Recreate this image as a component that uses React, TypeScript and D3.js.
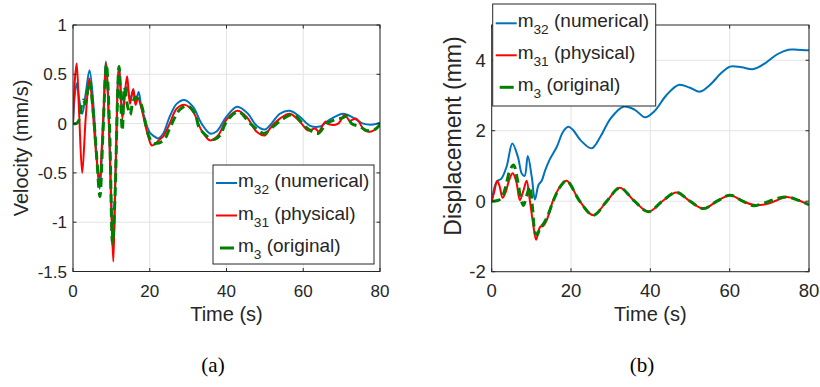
import React, { useEffect, useRef } from 'react';
import * as d3 from 'd3';

// (a) velocity, mm/s
const velTimeNum = [0, 0.5, 1.0, 1.6, 2.4, 3.3, 4.3, 5.3, 6.1, 6.9, 7.8, 8.6, 9.4, 10.0, 10.5, 11.1, 12.0, 12.9, 13.6, 14.1, 14.9, 15.7, 16.3, 17.1, 17.8, 18.5, 19.2, 20.2, 21.2, 22.2, 23.5, 25.2, 27.0, 29.0, 31.3, 33.5, 35.7, 37.4, 40.0, 42.8, 45.6, 47.8, 50.0, 51.3, 53.9, 56.5, 59.1, 61.7, 64.3, 66.9, 70.4, 73.0, 75.6, 78.2, 80];
const velNum = [0, 0.3, 0.41, 0.25, 0.1, 0.3, 0.54, 0.2, -0.3, -0.66, -0.1, 0.63, 0.0, -0.8, -1.28, -0.5, 0.58, 0.12, 0.3, 0.37, 0.25, 0.34, 0.22, 0.32, 0.17, 0.08, -0.02, -0.1, -0.13, -0.15, -0.1, 0.07, 0.2, 0.24, 0.17, 0.0, -0.1, -0.08, 0.07, 0.17, 0.1, -0.02, -0.06, -0.02, 0.1, 0.13, 0.07, -0.02, -0.03, 0.04, 0.1, 0.06, 0.0, -0.01, 0.01];

const velTimePhys = [0, 0.5, 0.95, 1.6, 2.4, 3.3, 4.25, 5.2, 6.0, 6.85, 7.8, 8.6, 9.5, 10.0, 10.5, 11.0, 12.0, 12.85, 13.5, 14.1, 14.85, 15.7, 16.3, 16.9, 17.8, 18.75, 19.6, 20.5, 21.3, 22.3, 23.5, 25.2, 27.0, 29.2, 31.3, 33.5, 35.7, 37.8, 40.0, 42.8, 45.2, 47.8, 50.0, 51.3, 53.9, 56.5, 59.1, 61.3, 63.1, 64.0, 65.8, 66.9, 69.1, 70.8, 72.1, 73.8, 76.0, 77.7, 80];
const velPhys = [0, 0.45, 0.61, 0.1, -0.5, 0.05, 0.46, 0.1, -0.3, -0.55, 0.0, 0.61, -0.2, -0.9, -1.4, -0.6, 0.58, 0.05, 0.3, 0.48, 0.2, 0.35, 0.19, 0.26, 0.16, 0.0, -0.13, -0.22, -0.21, -0.17, -0.13, 0.0, 0.15, 0.19, 0.12, -0.07, -0.17, -0.12, 0.04, 0.13, 0.07, -0.08, -0.12, -0.05, 0.05, 0.1, 0.02, -0.07, -0.05, -0.08, 0.02, -0.01, 0.0, 0.09, 0.03, 0.05, -0.07, -0.08, -0.01];

const velTimeOrig = [0, 0.8, 1.5, 2.2, 2.7, 3.2, 4.3, 5.2, 6.2, 7.0, 7.8, 8.7, 9.5, 10.3, 10.9, 12.0, 12.85, 13.4, 14.1, 14.9, 15.6, 16.4, 17.1, 17.9, 18.8, 19.7, 20.8, 21.8, 22.8, 24.0, 25.2, 27.8, 29.8, 31.8, 33.0, 36.5, 38.3, 40.0, 43.1, 46.2, 49.6, 50.4, 52.5, 54.8, 57.4, 60.8, 63.9, 66.0, 68.3, 70.4, 71.4, 72.6, 74.8, 76.5, 78.6, 80];
const velOrig = [0, 0.0, 0.03, 0.18, 0.24, 0.2, 0.43, 0.15, -0.35, -0.74, -0.1, 0.6, 0.0, -1.22, -0.8, 0.58, -0.07, 0.37, 0.2, 0.09, 0.22, 0.27, 0.24, 0.18, 0.02, -0.12, -0.2, -0.2, -0.19, -0.15, -0.05, 0.14, 0.18, 0.1, -0.05, -0.16, -0.12, 0.02, 0.12, 0.0, -0.1, -0.09, -0.02, 0.05, 0.09, -0.04, -0.1, 0.0, 0.04, 0.06, 0.08, 0.0, -0.03, -0.07, -0.06, -0.01];

// (b) displacement, mm
const dispTimeNum = [0, 1.25, 2.5, 3.8, 5.2, 6.6, 7.6, 8.3, 9.1, 10.1, 10.9, 11.8, 12.6, 13.5, 14.7, 16.4, 18.0, 19.3, 20.5, 22.5, 25.2, 27.5, 30.0, 33.2, 36.0, 38.7, 41.0, 44.0, 47.1, 50.0, 52.5, 55.0, 58.0, 60.1, 63.0, 66.0, 69.0, 72.0, 74.8, 77.0, 80];
const dispNum = [0, 0.55, 0.65, 1.0, 1.64, 1.26, 0.78, 0.72, 1.28, 0.69, 0.05, 0.46, 0.58, 0.88, 1.2, 1.54, 1.97, 2.11, 2.02, 1.72, 1.5, 1.85, 2.35, 2.68, 2.6, 2.38, 2.55, 3.0, 3.3, 3.22, 3.11, 3.3, 3.65, 3.82, 3.8, 3.75, 3.92, 4.17, 4.3, 4.3, 4.28];

const dispTimePhys = [0, 0.6, 1.4, 2.0, 2.75, 3.5, 4.4, 5.3, 6.2, 7.1, 8.0, 8.8, 9.6, 10.4, 11.2, 12.2, 13.0, 13.9, 15.5, 17.2, 18.9, 22.2, 25.6, 29.0, 32.3, 36.0, 39.5, 43.0, 46.6, 50.0, 53.4, 56.8, 60.1, 63.3, 66.0, 69.3, 71.8, 74.4, 77.5, 80];
const dispPhys = [0, 0.25, 0.58, 0.42, 0.1, 0.25, 0.6, 0.79, 0.55, 0.03, 0.3, 0.58, 0.03, -0.6, -1.09, -0.73, -0.7, -0.53, 0.03, 0.41, 0.58, 0.0, -0.4, 0.0, 0.38, 0.0, -0.3, 0.0, 0.25, 0.0, -0.21, 0.0, 0.17, 0.0, -0.1, -0.08, 0.02, 0.12, 0.02, -0.1];

const dispTimeOrig = [0, 1.5, 2.5, 3.5, 4.5, 5.5, 6.5, 7.5, 8.0, 8.8, 9.6, 10.3, 11.0, 11.5, 12.2, 13.0, 14.0, 15.5, 17.2, 18.9, 22.2, 25.6, 29.0, 32.3, 36.0, 39.5, 43.0, 46.6, 50.0, 53.4, 56.8, 60.1, 63.3, 66.0, 68.0, 70.0, 72.0, 74.4, 77.5, 80];
const dispOrig = [0, 0.02, 0.1, 0.4, 0.85, 1.03, 0.6, 0.0, -0.12, 0.15, 0.42, -0.2, -0.9, -0.95, -0.75, -0.65, -0.45, 0.0, 0.4, 0.58, 0.0, -0.4, 0.0, 0.38, 0.0, -0.3, 0.0, 0.25, 0.0, -0.21, 0.0, 0.17, 0.0, -0.13, -0.08, 0.0, 0.08, 0.12, 0.02, -0.1];

const xTicks = [0, 20, 40, 60, 80];
const velTicks = [-1.5, -1, -0.5, 0, 0.5, 1];
const dispTicks = [-2, 0, 2, 4];
const legendNames = ['32', '31', '3'];
const legendTails = [' (numerical)', ' (physical)', ' (original)'];

const BLUE = '#0072bd';
const RED = '#ff0000';
const GREEN = '#008000';
const INK = '#262626';
const SANS = '"Liberation Sans", Arial, Helvetica, sans-serif';

const drawPanel = (svg, cfg) => {
  const x = d3.scaleLinear().domain([0, 80]).range([cfg.left, cfg.right]);
  const y = d3.scaleLinear().domain(cfg.yDomain).range([cfg.bottom, cfg.top]);
  const g = svg.append('g').attr('font-family', SANS);

  g.append('rect')
    .attr('x', cfg.left).attr('y', cfg.top)
    .attr('width', cfg.right - cfg.left).attr('height', cfg.bottom - cfg.top)
    .attr('fill', '#fff');

  // grid
  xTicks.forEach((t) => {
    g.append('line').attr('x1', x(t)).attr('x2', x(t)).attr('y1', cfg.top).attr('y2', cfg.bottom)
      .attr('stroke', '#e3e3e3').attr('stroke-width', 1);
  });
  cfg.yTicks.forEach((t) => {
    g.append('line').attr('x1', cfg.left).attr('x2', cfg.right).attr('y1', y(t)).attr('y2', y(t))
      .attr('stroke', '#e3e3e3').attr('stroke-width', 1);
  });

  // curves
  const clipId = `clip-${cfg.id}`;
  svg.append('clipPath').attr('id', clipId).append('rect')
    .attr('x', cfg.left).attr('y', cfg.top)
    .attr('width', cfg.right - cfg.left).attr('height', cfg.bottom - cfg.top);
  const line = d3.line().x((d) => x(d[0])).y((d) => y(d[1])).curve(d3.curveCatmullRom.alpha(0.5));
  const lines = g.append('g').attr('clip-path', `url(#${clipId})`);
  cfg.series.forEach((s) => {
    lines.append('path')
      .attr('d', line(s.t.map((t, i) => [t, s.v[i]])))
      .attr('fill', 'none')
      .attr('stroke', s.color)
      .attr('stroke-width', s.width)
      .attr('stroke-dasharray', s.dash || null)
      .attr('stroke-linejoin', 'round');
  });

  // box + ticks
  g.append('rect')
    .attr('x', cfg.left).attr('y', cfg.top)
    .attr('width', cfg.right - cfg.left).attr('height', cfg.bottom - cfg.top)
    .attr('fill', 'none').attr('stroke', INK).attr('stroke-width', 1);
  const tl = 3.5;
  xTicks.forEach((t) => {
    g.append('line').attr('x1', x(t)).attr('x2', x(t)).attr('y1', cfg.bottom).attr('y2', cfg.bottom - tl).attr('stroke', INK);
    g.append('line').attr('x1', x(t)).attr('x2', x(t)).attr('y1', cfg.top).attr('y2', cfg.top + tl).attr('stroke', INK);
    g.append('text').attr('x', x(t)).attr('y', cfg.bottom + 25)
      .attr('text-anchor', 'middle').style('font-size', `${cfg.tickSize}px`).attr('fill', INK)
      .text(t);
  });
  cfg.yTicks.forEach((t) => {
    g.append('line').attr('x1', cfg.left).attr('x2', cfg.left + tl).attr('y1', y(t)).attr('y2', y(t)).attr('stroke', INK);
    g.append('line').attr('x1', cfg.right).attr('x2', cfg.right - tl).attr('y1', y(t)).attr('y2', y(t)).attr('stroke', INK);
    g.append('text').attr('x', cfg.left - 6).attr('y', y(t)).attr('dy', '0.36em')
      .attr('text-anchor', 'end').style('font-size', `${cfg.tickSize}px`).attr('fill', INK)
      .text(String(t));
  });

  // axis labels
  g.append('text').attr('x', (cfg.left + cfg.right) / 2).attr('y', 321)
    .attr('text-anchor', 'middle').style('font-size', '20px').attr('fill', INK)
    .text('Time (s)');
  g.append('text')
    .attr('transform', `translate(${cfg.ylabelX},${cfg.ylabelY}) rotate(-90)`)
    .attr('text-anchor', 'middle').style('font-size', `${cfg.labelSize}px`).attr('fill', INK)
    .text(cfg.yLabel);

  // legend
  const lg = cfg.legend;
  g.append('rect').attr('x', lg.x).attr('y', lg.y).attr('width', lg.w).attr('height', lg.h)
    .attr('fill', '#fff').attr('stroke', INK).attr('stroke-width', 1);
  cfg.series.forEach((s, i) => {
    const ry = lg.y + lg.row0 + i * lg.step;
    g.append('line').attr('x1', lg.x + 3).attr('x2', lg.x + 24).attr('y1', ry).attr('y2', ry)
      .attr('stroke', s.color).attr('stroke-width', s.width).attr('stroke-dasharray', s.dash ? '14,6' : null)
      .attr('stroke-dashoffset', s.dash ? -4 : null);
    const txt = g.append('text').attr('x', lg.x + 25).attr('y', ry + 4)
      .style('font-size', `${lg.fontSize}px`).attr('fill', INK);
    txt.append('tspan').text('m');
    txt.append('tspan').attr('dy', 7).style('font-size', `${lg.fontSize * 0.72}px`).text(legendNames[i]);
    txt.append('tspan').attr('dy', -7).text(legendTails[i]);
  });

  // caption
  svg.append('text').attr('x', cfg.captionX).attr('y', 372)
    .attr('text-anchor', 'middle')
    .attr('font-family', '"Liberation Serif", "DejaVu Serif", serif')
    .style('font-size', '21px').attr('fill', '#000')
    .text(cfg.caption);
};

const App = () => {
  const ref = useRef(null);

  useEffect(() => {
    const root = d3.select(ref.current);
    root.selectAll('*').remove();
    const svg = root.append('svg')
      .attr('width', 820).attr('height', 387)
      .style('position', 'absolute').style('left', 0).style('top', 0)
      .style('background', '#fff');

    drawPanel(svg, {
      id: 'a',
      left: 73, right: 380, top: 25, bottom: 271.5,
      yDomain: [-1.5, 1], yTicks: velTicks,
      yLabel: 'Velocity (mm/s)', ylabelX: 28, ylabelY: 148,
      tickSize: 17, labelSize: 20,
      caption: '(a)', captionX: 213,
      legend: { x: 213, y: 165, w: 161, h: 99, row0: 18, step: 32.5, fontSize: 19 },
      series: [
        { t: velTimeNum, v: velNum, color: BLUE, width: 2 },
        { t: velTimePhys, v: velPhys, color: RED, width: 2 },
        { t: velTimeOrig, v: velOrig, color: GREEN, width: 3, dash: '9,5' },
      ],
    });

    drawPanel(svg, {
      id: 'b',
      left: 491.7, right: 809, top: 25, bottom: 271.7,
      yDomain: [-2, 5], yTicks: dispTicks,
      yLabel: 'Displacement (mm)', ylabelX: 461, ylabelY: 136,
      tickSize: 18.5, labelSize: 23,
      caption: '(b)', captionX: 642,
      legend: { x: 492.7, y: 4, w: 163, h: 102, row0: 19.3, step: 32, fontSize: 19 },
      series: [
        { t: dispTimeNum, v: dispNum, color: BLUE, width: 2 },
        { t: dispTimePhys, v: dispPhys, color: RED, width: 2 },
        { t: dispTimeOrig, v: dispOrig, color: GREEN, width: 3, dash: '9,5' },
      ],
    });
  }, []);

  return <div ref={ref}></div>;
};

export default App;
